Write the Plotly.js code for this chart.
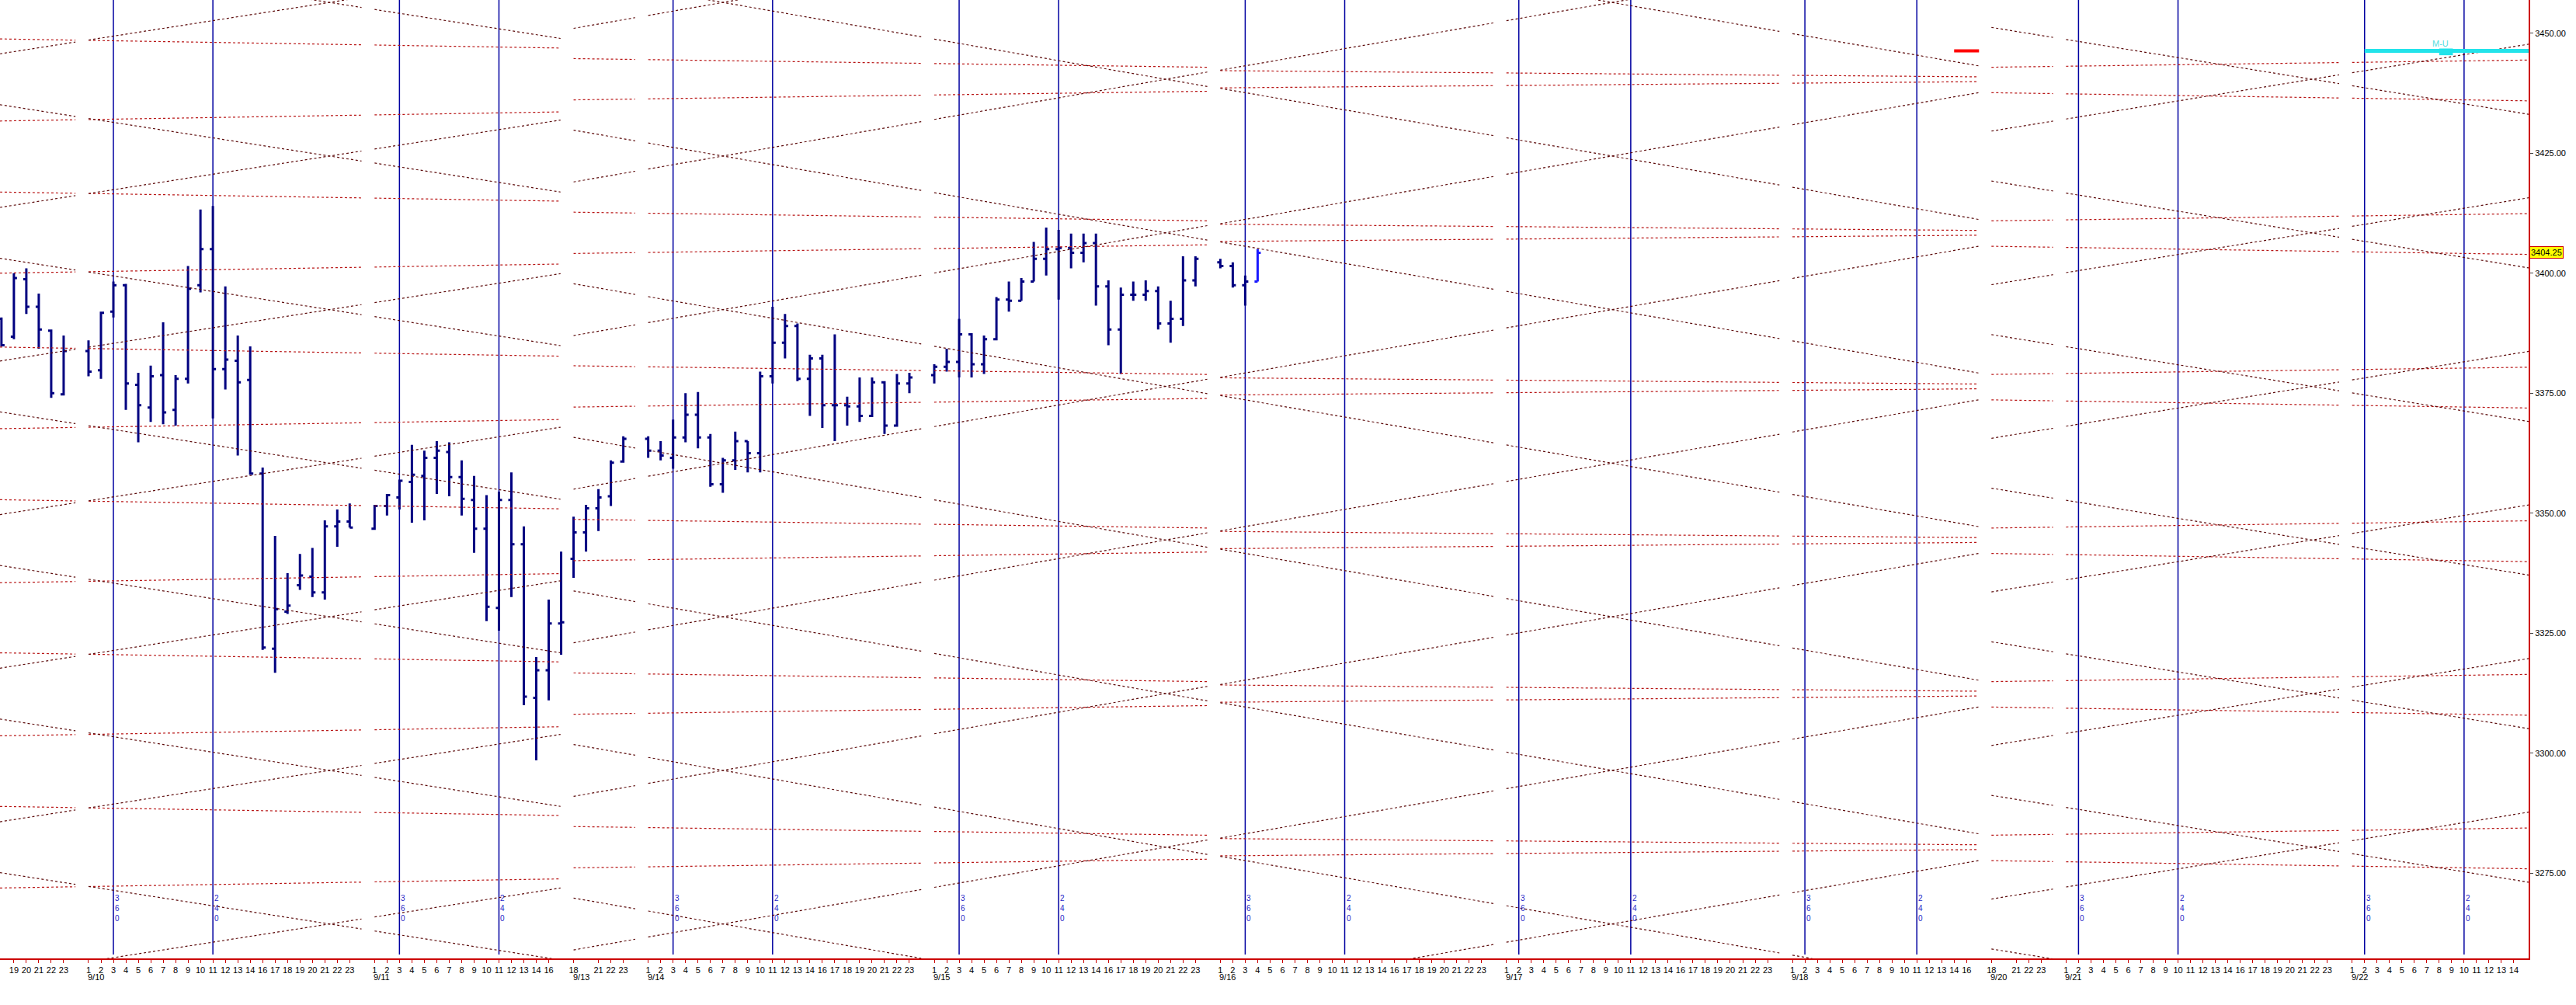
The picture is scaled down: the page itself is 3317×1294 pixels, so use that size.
<!DOCTYPE html>
<html><head><meta charset="utf-8">
<script src="https://cdn.plot.ly/plotly-3.0.1.min.js"></script>
<style>html,body{margin:0;padding:0;background:#fff;}#chart{width:3317px;height:1294px;}</style>
</head><body><div id="chart"></div>
<script>
// ---------- axis / session data ----------
const FULL_DAY = ['1','2','3','4','5','6','7','8','9','10','11','12','13','14','16','17','18','19','20','21','22','23'];
const sessionFirstSlot = [-1, 6, 29, 45, 51, 74, 97, 120, 143, 159, 165, 188];
const sessionDate = ['', '9/10', '9/11', '9/13', '9/14', '9/15', '9/16', '9/17', '9/18', '9/20', '9/21', '9/22'];
const sessionHours = [
  ['', '19','20','21','22','23'],
  FULL_DAY,
  ['1','2','3','4','5','6','7','8','9','10','11','12','13','14','16',''],
  ['18','','21','22','23'],
  FULL_DAY, FULL_DAY, FULL_DAY, FULL_DAY,
  ['1','2','3','4','5','6','7','8','9','10','11','12','13','14','16'],
  ['18','','21','22','23'],
  FULL_DAY,
  ['1','2','3','4','5','6','7','8','9','10','11','12','13','14']
];
const priceTicks = [3275, 3300, 3325, 3350, 3375, 3400, 3425, 3450];

// ---------- OHLC bars ----------
const barSlot = [-1,0,1,2,3,4,
  6,7,8,9,10,11,12,13,14,15,16,17,18,19,20,21,22,23,24,25,26,27,
  29,30,31,32,33,34,35,36,37,38,39,40,41,42,43,44,
  45,46,47,48,49,
  51,52,53,54,55,56,57,58,59,60,61,62,63,64,65,66,67,68,69,70,71,72,
  74,75,76,77,78,79,80,81,82,83,84,85,86,87,88,89,90,91,92,93,94,95,
  97,98,99,100];
const barOpen = [3390.5,3386.75,3398.75,3393.0,3388.0,3374.75,
  3383.75,3379.75,3392.0,3397.5,3376.75,3372.0,3378.75,3371.5,3378.0,3397.5,3405.0,3380.0,3381.75,3377.75,3358.25,3321.75,3329.5,3335.0,3336.75,3333.5,3347.25,3348.25,
  3346.75,3351.5,3353.25,3356.5,3357.75,3361.5,3362.75,3357.5,3352.75,3346.75,3330.25,3352.75,3343.5,3311.5,3317.25,3327.0,
  3340.5,3346.0,3351.0,3353.5,3360.75,
  3365.5,3363.0,3361.5,3365.75,3370.5,3365.75,3356.0,3361.0,3365.0,3362.5,3378.5,3385.5,3389.0,3378.0,3382.25,3372.5,3372.5,3372.25,3370.25,3377.25,3368.25,3377.0,
  3378.75,3380.5,3381.5,3387.25,3381.0,3386.25,3394.5,3394.25,3398.25,3403.0,3405.0,3405.25,3404.25,3406.25,3397.25,3388.25,3395.5,3395.5,3396.25,3389.5,3390.5,3398.5,
  3402.25,3401.5,3397.5,3398.25];
const barHigh = [3390.75,3400.0,3401.0,3395.75,3388.25,3387.0,
  3386.0,3392.0,3398.25,3397.75,3379.25,3380.75,3389.75,3378.75,3401.5,3413.25,3414.0,3397.25,3387.0,3384.75,3359.5,3345.25,3337.5,3341.5,3342.75,3348.5,3350.75,3352.0,
  3351.75,3354.0,3357.0,3364.25,3363.0,3365.0,3364.75,3361.0,3357.75,3353.75,3354.5,3358.5,3347.25,3320.0,3332.0,3342.0,
  3349.25,3351.75,3355.0,3361.0,3366.0,
  3366.0,3365.0,3369.5,3375.0,3375.25,3366.5,3361.5,3367.0,3365.0,3379.5,3393.0,3391.5,3389.5,3383.0,3383.0,3387.25,3374.25,3378.25,3378.25,3377.5,3379.0,3379.25,
  3381.0,3384.25,3390.5,3387.5,3387.0,3395.0,3398.25,3399.0,3406.5,3409.5,3409.0,3408.25,3408.25,3408.25,3398.5,3397.0,3398.25,3398.5,3397.25,3394.25,3403.5,3403.5,
  3403.0,3402.25,3399.5,3405.0];
const barLow = [3384.75,3386.25,3391.5,3384.25,3374.0,3374.5,
  3378.5,3378.0,3390.75,3371.5,3364.75,3369.0,3368.5,3368.25,3377.0,3396.0,3369.75,3375.75,3362.0,3358.0,3321.5,3316.75,3329.0,3334.0,3332.5,3332.0,3343.0,3347.0,
  3346.5,3349.5,3350.75,3348.0,3348.5,3354.0,3353.5,3349.5,3341.75,3327.5,3325.5,3332.5,3310.0,3298.5,3311.0,3320.5,
  3336.5,3342.0,3346.25,3351.5,3360.5,
  3361.5,3361.0,3359.25,3364.75,3363.5,3355.5,3354.25,3359.0,3358.5,3358.5,3377.0,3382.25,3377.5,3370.25,3367.75,3365.0,3368.25,3369.0,3370.0,3366.5,3368.0,3375.0,
  3377.0,3379.5,3378.25,3378.25,3379.0,3386.0,3392.0,3394.25,3398.25,3399.5,3394.5,3401.0,3402.25,3393.25,3385.0,3379.0,3394.25,3394.25,3388.25,3385.5,3389.0,3397.25,
  3401.0,3397.0,3393.25,3398.25];
const barClose = [3385.0,3399.0,3393.0,3388.25,3375.0,3383.75,
  3379.5,3391.75,3397.5,3377.0,3372.5,3378.5,3371.0,3378.0,3396.75,3405.0,3380.0,3382.0,3377.25,3358.25,3322.0,3330.0,3330.75,3337.0,3333.5,3347.25,3348.25,3347.0,
  3351.5,3353.75,3356.75,3358.0,3361.5,3363.0,3357.5,3353.0,3346.75,3330.5,3352.75,3343.5,3311.75,3317.25,3327.0,3327.25,
  3346.0,3351.0,3353.25,3360.5,3365.5,
  3363.0,3362.0,3365.75,3370.5,3365.75,3356.0,3361.0,3365.0,3362.5,3378.5,3385.5,3389.0,3378.0,3382.25,3372.5,3372.5,3372.25,3370.25,3377.25,3368.25,3377.0,3378.25,
  3380.5,3381.5,3387.25,3381.0,3386.25,3394.5,3394.25,3398.25,3403.0,3405.0,3405.25,3404.25,3406.25,3397.25,3388.25,3395.5,3395.5,3396.25,3389.5,3390.5,3398.5,3403.0,
  3401.5,3397.5,3398.25,3404.25];
const lastPrice = 3404.25;

// ---------- time-cycle markers ----------
const cycleSlot  = [8,16,31,39,53,61,76,84,99,107,121,130,144,153,166,174,189,197];
const cycleLabel = ['360','240','360','240','360','240','360','240','360','240','360','240','360','240','360','240','360','240'];

// ---------- projection lines (block start slot, end slot, price at start, price at end) ----------
const blockSpan = [[-1.12, 43.95], [45, 95.95], [97, 157.95], [159, 202.19]];
const steepStart = [
  [3445.7,3467.1,3413.7,3435.1,3381.7,3403.1,3349.7,3371.1,3317.7,3339.1,3285.7,3307.1,3253.7,3275.1],
  [3451.0,3461.8,3419.0,3429.8,3387.0,3397.8,3355.0,3365.8,3323.0,3333.8,3291.0,3301.8,3259.0,3269.8],
  [3442.3,3470.5,3410.3,3438.5,3378.3,3406.5,3346.3,3374.5,3314.3,3342.5,3282.3,3310.5,3250.3,3278.5],
  [3429.6,3451.2,3397.6,3419.2,3365.6,3387.2,3333.6,3355.2,3301.6,3323.2,3269.6,3291.2,3237.6,3259.2]
];
const steepEnd = [
  [3463.9,3448.9,3431.9,3416.9,3399.9,3384.9,3367.9,3352.9,3335.9,3320.9,3303.9,3288.9,3271.9,3256.9],
  [3473.9,3438.9,3441.9,3406.9,3409.9,3374.9,3377.9,3342.9,3345.9,3310.9,3313.9,3278.9,3281.9,3246.9],
  [3469.6,3443.2,3437.6,3411.2,3405.6,3379.2,3373.6,3347.2,3341.6,3315.2,3309.6,3283.2,3277.6,3251.2],
  [3447.7,3433.1,3415.7,3401.1,3383.7,3369.1,3351.7,3337.1,3319.7,3305.1,3287.7,3273.1,3255.7,3241.1]
];
const levelStart = [
  [3431.7,3448.8,3400.0,3416.9,3367.6,3384.6,3335.5,3352.8,3303.6,3320.9,3271.9,3288.9],
  [3444.7,3436.1,3412.7,3404.1,3380.7,3372.1,3348.7,3340.1,3316.7,3308.1,3284.7,3276.1],
  [3442.2,3438.6,3410.2,3406.6,3378.2,3374.6,3346.2,3342.6,3314.2,3310.6,3282.2,3278.6],
  [3442.9,3437.6,3410.9,3405.6,3378.9,3373.6,3346.9,3341.6,3314.9,3309.6,3282.9,3277.6]
];
const levelEnd = [
  [3433.6,3446.9,3401.9,3415.0,3369.5,3382.7,3337.4,3350.9,3305.5,3319.0,3273.8,3287.0],
  [3442.9,3437.9,3410.9,3405.9,3378.9,3373.9,3346.9,3341.9,3314.9,3309.9,3282.9,3277.9],
  [3440.9,3439.9,3408.9,3407.9,3376.9,3375.9,3344.9,3343.9,3312.9,3311.9,3280.9,3279.9],
  [3444.4,3435.9,3412.4,3403.9,3380.4,3371.9,3348.4,3339.9,3316.4,3307.9,3284.4,3275.9]
];
const markerPrice = 3446.3;

// ---------- build ----------
const tickVals = [], tickText = [];
sessionFirstSlot.forEach((s, i) => sessionHours[i].forEach((h, k) => { if (h !== '') { tickVals.push(s + k); tickText.push(h); } }));
const sessRanges = sessionFirstSlot.map((s, i) => [i === 0 ? -1.2 : s, i < sessionFirstSlot.length - 1 ? sessionFirstSlot[i + 1] - 1.05 : 202.3]);

function buildLines(starts, ends) {
  const xs = [], ys = [];
  blockSpan.forEach(([t0, t1], b) => {
    starts[b].forEach((p0, i) => {
      const p1 = ends[b][i];
      const f = t => p0 + (p1 - p0) * (t - t0) / (t1 - t0);
      sessRanges.forEach(([a, c]) => {
        const s = Math.max(a, t0), e = Math.min(c, t1);
        if (e <= s) return;
        xs.push(s, e, null); ys.push(f(s), f(e), null);
      });
    });
  });
  return {xs, ys};
}
const steep = buildLines(steepStart, steepEnd);
const level = buildLines(levelStart, levelEnd);

const NAVY = '#000080';
const nLast = barSlot.length - 1;
const traces = [
  {type:'scatter', mode:'lines', x:level.xs, y:level.ys, line:{color:'#b81414', width:1.2, dash:'3px,3px'}, hoverinfo:'skip', connectgaps:false},
  {type:'scatter', mode:'lines', x:steep.xs, y:steep.ys, line:{color:'#5c0a0a', width:1.2, dash:'3px,3px'}, hoverinfo:'skip', connectgaps:false},
  {type:'ohlc', x:barSlot.slice(0, nLast), open:barOpen.slice(0, nLast), high:barHigh.slice(0, nLast), low:barLow.slice(0, nLast), close:barClose.slice(0, nLast),
   increasing:{line:{color:NAVY, width:3}}, decreasing:{line:{color:NAVY, width:3}}, tickwidth:0.25, hoverinfo:'skip'},
  {type:'ohlc', x:[barSlot[nLast], barSlot[nLast] + 1], open:[barOpen[nLast], null], high:[barHigh[nLast], null], low:[barLow[nLast], null], close:[barClose[nLast], null],
   increasing:{line:{color:'#1a1aff', width:3}}, decreasing:{line:{color:'#1a1aff', width:3}}, tickwidth:0.25, hoverinfo:'skip'}
];

const shapes = [];
cycleSlot.forEach(s => shapes.push({type:'line', xref:'x', yref:'paper', x0:s, x1:s, y0:0.004, y1:1, line:{color:'#0000a0', width:1.5}, layer:'below'}));
shapes.push({type:'line', xref:'x', yref:'y', x0:189, x1:202.19, y0:markerPrice, y1:markerPrice, line:{color:'#22e3ea', width:5}});
shapes.push({type:'rect', xref:'x', yref:'y', x0:195.0, x1:196.1, y0:markerPrice - 0.9, y1:markerPrice + 0.5, fillcolor:'#22e3ea', line:{width:0}});
shapes.push({type:'line', xref:'x', yref:'y', x0:156.0, x1:158.0, y0:markerPrice, y1:markerPrice, line:{color:'#ff0000', width:4}});

const FONT = 'Liberation Sans, Arial, sans-serif';
const annotations = [];
sessionFirstSlot.forEach((s, i) => {
  if (!sessionDate[i]) return;
  annotations.push({xref:'x', yref:'paper', x:s, y:-0.0197, xanchor:'left', yanchor:'middle', xshift:-3, showarrow:false, text:sessionDate[i], font:{family:FONT, size:11, color:'#000'}});
});
cycleSlot.forEach((s, i) => annotations.push({xref:'x', yref:'paper', x:s, y:0.069, xanchor:'left', yanchor:'top', xshift:0, showarrow:false,
  text:cycleLabel[i].split('').join('<br>'), font:{family:FONT, size:10, color:'#2828c8'}}));
annotations.push({xref:'paper', yref:'y', x:1, y:lastPrice, xanchor:'left', yanchor:'middle', xshift:1, showarrow:false, text:lastPrice.toFixed(2),
  bgcolor:'#ffff00', bordercolor:'#cc0000', borderwidth:1, borderpad:1, font:{family:FONT, size:11, color:'#000'}});
annotations.push({xref:'x', yref:'y', x:195.1, y:markerPrice + 1.6, showarrow:false, text:'M-U', font:{family:FONT, size:11, color:'#55dde0'}});

const layout = {
  width:3317, height:1294, margin:{l:0, r:61, t:0, b:60, pad:0},
  paper_bgcolor:'#ffffff', plot_bgcolor:'#ffffff', showlegend:false,
  xaxis:{range:[-1.117, 202.19], tickmode:'array', tickvals:tickVals, ticktext:tickText, tickangle:0,
    ticks:'outside', ticklen:4, tickcolor:'#cc0000', tickwidth:1, showline:true, linecolor:'#cc0000', linewidth:2,
    showgrid:false, zeroline:false, tickfont:{family:FONT, size:11, color:'#000'}, rangeslider:{visible:false}, fixedrange:true, automargin:false},
  yaxis:{side:'right', range:[3257.23, 3456.91], tickmode:'array', tickvals:priceTicks, ticktext:priceTicks.map(v => v.toFixed(2)),
    ticks:'outside', ticklen:4, tickcolor:'#444', showline:true, linecolor:'#cc0000', linewidth:2,
    showgrid:false, zeroline:false, tickfont:{family:FONT, size:11, color:'#000'}, fixedrange:true, automargin:false},
  shapes, annotations
};
Plotly.newPlot('chart', traces, layout, {staticPlot:true, displayModeBar:false});
</script></body></html>
